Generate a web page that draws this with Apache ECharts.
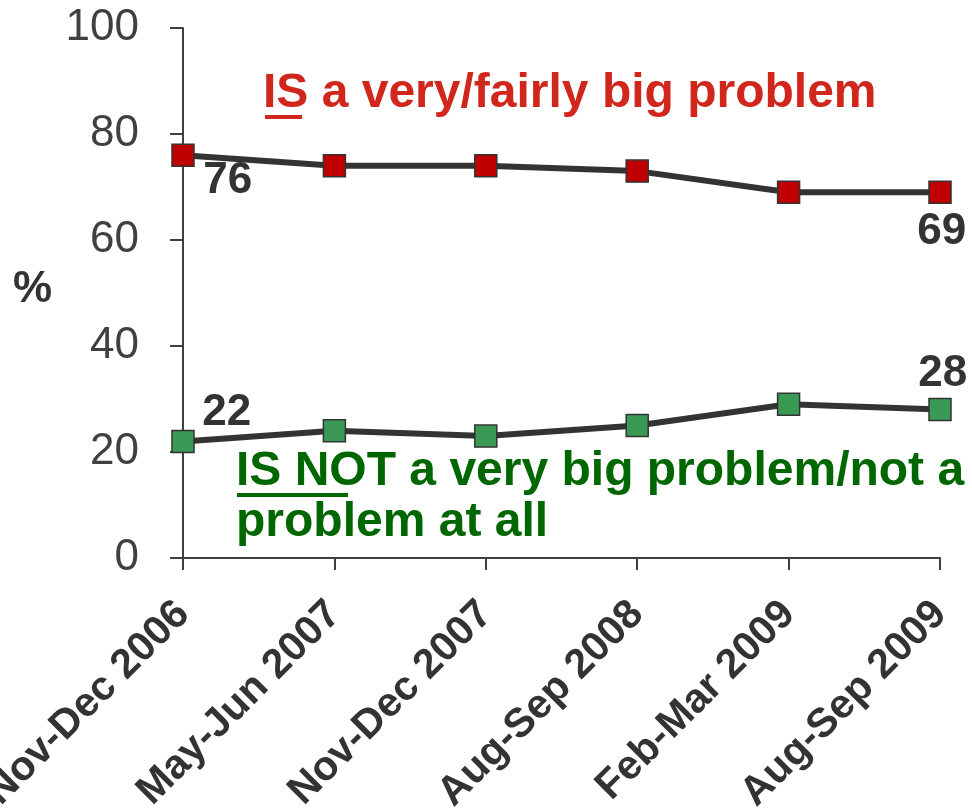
<!DOCTYPE html>
<html>
<head>
<meta charset="utf-8">
<script src="https://cdn.jsdelivr.net/npm/echarts@6/dist/echarts.min.js"></script>
<style>
html,body{margin:0;padding:0;background:#fff;}
#chart{width:972px;height:811px;}
</style>
</head>
<body>
<div id="chart"></div>
<script>
const categories = ['Nov-Dec 2006','May-Jun 2007','Nov-Dec 2007','Aug-Sep 2008','Feb-Mar 2009','Aug-Sep 2009'];
const isProblem = [76, 74, 74, 73, 69, 69];
const isNotProblem = [22, 24, 23, 25, 29, 28];
const yTicks = [0, 20, 40, 60, 80, 100];

const FONT = "'Liberation Sans', Arial, sans-serif";
const chart = echarts.init(document.getElementById('chart'));

function buildData(values, labelCfg) {
  return values.map((v, i) => {
    const item = { value: v };
    if (labelCfg[i]) {
      item.label = Object.assign({
        show: true, fontSize: 44, fontWeight: 'bold', color: '#333333',
        fontFamily: FONT, align: 'left', verticalAlign: 'top'
      }, labelCfg[i]);
    }
    return item;
  });
}

const last = categories.length - 1;
const redLabels = {}; redLabels[0] = { position: [32, 15] }; redLabels[last] = { position: [-11, 29] };
const greenLabels = {}; greenLabels[0] = { position: [31, -39] }; greenLabels[last] = { position: [-10, -46] };

chart.setOption({
  animation: false,
  backgroundColor: '#ffffff',
  grid: { left: 183, right: 32, top: 28, bottom: 253, containLabel: false, outerBoundsMode: 'none' },
  xAxis: {
    type: 'category', data: categories, boundaryGap: false,
    axisLine: { lineStyle: { color: '#404040', width: 2 } },
    axisTick: { show: true, length: 12, alignWithLabel: true, lineStyle: { color: '#404040', width: 2 } },
    axisLabel: { rotate: 45, fontSize: 41, fontWeight: 'bold', color: '#333333', fontFamily: FONT, margin: 50, interval: 0 },
    splitLine: { show: false }
  },
  yAxis: {
    type: 'value', min: yTicks[0], max: yTicks[yTicks.length - 1], interval: 20,
    axisLine: { show: true, lineStyle: { color: '#404040', width: 2 } },
    axisTick: { show: true, length: 13, lineStyle: { color: '#404040', width: 2 } },
    axisLabel: { fontSize: 44, color: '#404040', fontFamily: FONT, margin: 44 },
    splitLine: { show: false }
  },
  series: [
    {
      type: 'line', data: buildData(isProblem, redLabels),
      symbol: 'rect', symbolSize: 22, showAllSymbol: true,
      lineStyle: { color: '#333333', width: 6 },
      itemStyle: { color: '#C00000', borderColor: '#333333', borderWidth: 1.5 },
      label: { show: false }
    },
    {
      type: 'line', data: buildData(isNotProblem, greenLabels),
      symbol: 'rect', symbolSize: 22, showAllSymbol: true,
      lineStyle: { color: '#333333', width: 6 },
      itemStyle: { color: '#3A9A55', borderColor: '#333333', borderWidth: 1.5 },
      label: { show: false }
    }
  ],
  graphic: [
    { type: 'text', left: 13, top: 268, style: { text: '%', fontSize: 44, fontWeight: 'bold', fill: '#333333', fontFamily: FONT } },
    { type: 'text', left: 263, top: 70, style: { text: 'IS a very/fairly big problem', fontSize: 48, fontWeight: 'bold', fill: '#D0261C', fontFamily: FONT } },
    { type: 'rect', shape: { x: 265, y: 115, width: 37, height: 4 }, style: { fill: '#D0261C' } },
    { type: 'text', left: 236, top: 446, style: { text: 'IS NOT a very big problem/not a\nproblem at all', fontSize: 48, lineHeight: 51, fontWeight: 'bold', fill: '#006600', fontFamily: FONT } },
    { type: 'rect', shape: { x: 237, y: 493, width: 111, height: 4 }, style: { fill: '#006600' } }
  ]
});
</script>
</body>
</html>
